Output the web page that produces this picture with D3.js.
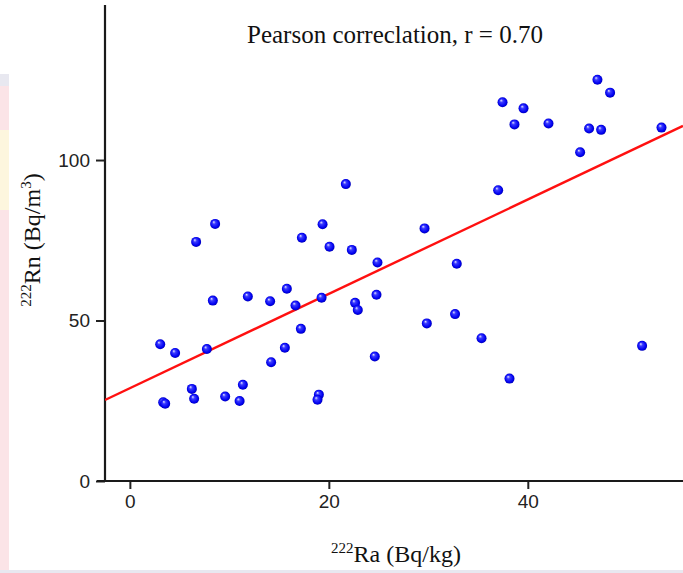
<!DOCTYPE html>
<html>
<head>
<meta charset="utf-8">
<script src="https://cdn.jsdelivr.net/npm/d3@7"></script>
<style>
  body { margin: 0; background: #fff; }
  svg { display: block; }
</style>
</head>
<body>
<svg id="chart"></svg>
<script>
"use strict";

// 226Ra in soil vs 222Rn
const raValues = [
  3.05, 4.55, 3.35, 3.55, 6.23, 6.46, 6.66, 7.74, 8.34, 8.57,
  9.58, 11.03, 11.36, 11.86, 14.1, 14.2, 15.58, 15.78, 16.65, 17.19,
  17.29, 19.0, 18.86, 19.37, 19.27, 20.07, 21.71, 22.31, 22.64, 22.91,
  24.62, 24.79, 24.89, 29.62, 29.85, 32.69, 32.86, 35.35, 37.02, 37.46,
  38.16, 38.66, 39.57, 42.08, 45.26, 46.16, 47.0, 47.37, 48.27, 51.49,
  53.44
];
const rnValues = [
  42.6, 39.9, 24.5, 24.1, 28.7, 25.6, 74.5, 41.1, 56.2, 80.1,
  26.3, 24.9, 30.0, 57.5, 56.0, 37.0, 41.5, 59.9, 54.7, 47.4,
  75.8, 26.9, 25.3, 80.0, 57.1, 73.0, 92.5, 72.0, 55.5, 53.3,
  38.8, 58.0, 68.1, 78.7, 49.1, 52.0, 67.7, 44.5, 90.6, 118.0,
  31.9, 111.1, 116.1, 111.4, 102.4, 109.8, 125.0, 109.4, 121.0, 42.1,
  110.1
];
const xTicks = [0, 20, 40];
const yTicks = [0, 50, 100];
const fit = [28.9, 1.47]; // intercept, slope
const title = "Pearson correclation, r = 0.70";

const width = 683;
const height = 573;
const left = 105;
const bottom = 481;

const svg = d3.select("#chart").attr("width", width).attr("height", height);

// faint page background remnants
svg.append("rect").attr("x", 0).attr("y", 74).attr("width", 9).attr("height", 496).attr("fill", "#fbe4e7");
svg.append("rect").attr("x", 0).attr("y", 130).attr("width", 9).attr("height", 80).attr("fill", "#fdf6de");
svg.append("rect").attr("x", 0).attr("y", 74).attr("width", 9).attr("height", 12).attr("fill", "#e8e8f0");
svg.append("rect").attr("x", 0).attr("y", 570).attr("width", width).attr("height", 3).attr("fill", "#e8e8f0");

const xScale = d3.scaleLinear().domain([-2.5, 55.6]).range([left, width]);
const yScale = d3.scaleLinear().domain([0, 148.3]).range([bottom, 5]);

const defs = svg.append("defs");
const grad = defs.append("radialGradient")
  .attr("id", "ball")
  .attr("cx", "50%").attr("cy", "50%").attr("r", "55%")
  .attr("fx", "35%").attr("fy", "30%");
grad.append("stop").attr("offset", "0%").attr("stop-color", "#e8e8ff");
grad.append("stop").attr("offset", "30%").attr("stop-color", "#3a3aff");
grad.append("stop").attr("offset", "75%").attr("stop-color", "#0000f0");
grad.append("stop").attr("offset", "100%").attr("stop-color", "#0000a0");

defs.append("clipPath").attr("id", "plot")
  .append("rect").attr("x", left).attr("y", 0).attr("width", width - left).attr("height", bottom);

// axes
const xAxis = d3.axisBottom(xScale).tickValues(xTicks).tickSize(8).tickPadding(6).tickSizeOuter(0);
const yAxis = d3.axisLeft(yScale).tickValues(yTicks).tickSize(9).tickPadding(6).tickSizeOuter(0);

const gx = svg.append("g").attr("transform", `translate(0,${bottom})`).call(xAxis);
const gy = svg.append("g").attr("transform", `translate(${left},0)`).call(yAxis);

[gx, gy].forEach((g) => {
  g.select(".domain").remove();
  g.selectAll(".tick line").attr("stroke", "#222").attr("stroke-width", 2);
  g.selectAll(".tick text")
    .attr("fill", "#222")
    .style("font-family", "'Liberation Sans', Arial, sans-serif")
    .style("font-size", "19px");
});

svg.append("line")
  .attr("x1", left - 8).attr("x2", width)
  .attr("y1", bottom).attr("y2", bottom)
  .attr("stroke", "#1a1a1a").attr("stroke-width", 2.2);
svg.append("line")
  .attr("x1", left).attr("x2", left)
  .attr("y1", yScale.range()[1]).attr("y2", bottom + 1)
  .attr("stroke", "#1a1a1a").attr("stroke-width", 2.2);

// regression line
const xDom = xScale.domain();
svg.append("line")
  .attr("clip-path", "url(#plot)")
  .attr("x1", xScale(xDom[0])).attr("y1", yScale(fit[0] + fit[1] * xDom[0]))
  .attr("x2", xScale(xDom[1])).attr("y2", yScale(fit[0] + fit[1] * xDom[1]))
  .attr("stroke", "#ff1010").attr("stroke-width", 2.4);

// points
svg.append("g")
  .selectAll("circle")
  .data(raValues.map((v, i) => [v, rnValues[i]]))
  .join("circle")
  .attr("cx", (d) => xScale(d[0]))
  .attr("cy", (d) => yScale(d[1]))
  .attr("r", 5)
  .attr("fill", "url(#ball)");

// texts
const serif = "'Liberation Serif', 'Times New Roman', serif";

svg.append("text")
  .attr("x", 395).attr("y", 43)
  .attr("text-anchor", "middle")
  .style("font-family", serif).style("font-size", "25px")
  .attr("fill", "#111")
  .text(title);

const xl = svg.append("text")
  .attr("x", 396).attr("y", 562)
  .attr("text-anchor", "middle")
  .style("font-family", serif).style("font-size", "24px")
  .attr("fill", "#111");
xl.append("tspan").attr("dy", -9).style("font-size", "15px").text("222");
xl.append("tspan").attr("dy", 9).text("Ra (Bq/kg)");

const yl = svg.append("text")
  .attr("transform", "translate(40,240) rotate(-90)")
  .attr("text-anchor", "middle")
  .style("font-family", serif).style("font-size", "24px")
  .attr("fill", "#111");
yl.append("tspan").attr("dy", -9).style("font-size", "15px").text("222");
yl.append("tspan").attr("dy", 9).text("Rn (Bq/m");
yl.append("tspan").attr("dy", -9).style("font-size", "15px").text("3");
yl.append("tspan").attr("dy", 9).text(")");
</script>
</body>
</html>
